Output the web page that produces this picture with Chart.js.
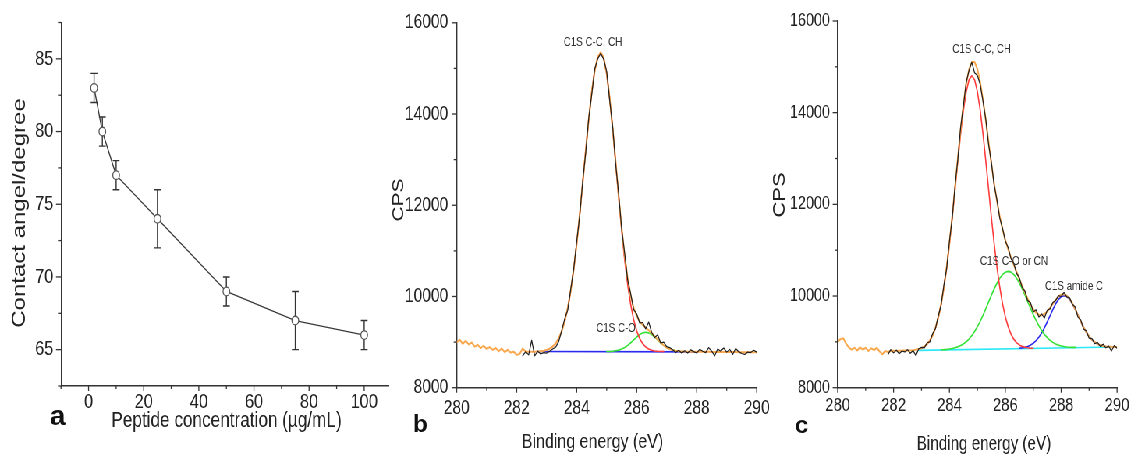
<!DOCTYPE html>
<html><head><meta charset="utf-8">
<script src="https://cdn.jsdelivr.net/npm/chart.js@4.4.0/dist/chart.umd.min.js"></script>
<style>
html,body{margin:0;padding:0;background:#fff;overflow:hidden;width:1131px;height:455px;}
#wrap{position:absolute;left:0;top:0;width:1450px;height:455px;transform:scaleX(0.78);transform-origin:0 0;}
canvas{position:absolute;top:0;}
</style></head><body>
<div id="wrap"><canvas id="ca"></canvas><canvas id="cb"></canvas><canvas id="cc"></canvas></div>
<script>
const S = 0.78;
const FONT = "'Liberation Sans', Arial, Helvetica, sans-serif";

// ---------- Panel a ----------
const concentration = [2, 5, 10, 25, 50, 75, 100];
const contactAngle = [83, 80, 77, 74, 69, 67, 66];
const angleError = [1, 1, 1, 2, 1, 2, 1];
const aXLabels = [0, 20, 40, 60, 80, 100];
const aYLabels = [65, 70, 75, 80, 85];

// ---------- Panels b, c (XPS C1s) ----------
const xpsXLabels = [280, 282, 284, 286, 288, 290];
const xpsYLabels = [8000, 10000, 12000, 14000, 16000];
const energy = [280.0,280.1,280.2,280.3,280.4,280.5,280.6,280.7,280.8,280.9,
281.0,281.1,281.2,281.3,281.4,281.5,281.6,281.7,281.8,281.9,
282.0,282.1,282.2,282.3,282.4,282.5,282.6,282.7,282.8,282.9,
283.0,283.1,283.2,283.3,283.4,283.5,283.6,283.7,283.8,283.9,
284.0,284.1,284.2,284.3,284.4,284.5,284.6,284.7,284.8,284.9,
285.0,285.1,285.2,285.3,285.4,285.5,285.6,285.7,285.8,285.9,
286.0,286.1,286.2,286.3,286.4,286.5,286.6,286.7,286.8,286.9,
287.0,287.1,287.2,287.3,287.4,287.5,287.6,287.7,287.8,287.9,
288.0,288.1,288.2,288.3,288.4,288.5,288.6,288.7,288.8,288.9,
289.0,289.1,289.2,289.3,289.4,289.5,289.6,289.7,289.8,289.9,
290.0];

// panel b (values start at energy index given)
const bEnvelope = [9000,9050,8960,9030,8950,8990,8900,8940,8870,8920,
8850,8890,8830,8870,8800,8860,8780,8830,8770,8790,
8720,8740,8860,8790,8790,8790,8790,8795,8800,8810,
8827,8856,8901,8971,9078,9233,9450,9742,10121,10591,
11153,11793,12485,13193,13873,14472,14943,15245,15350,15230,
14885,14350,13679,12941,12197,11499,10891,10395,10018,9748,
9568,9453,9377,9317,9260,9196,9127,9056,8989,8930,
8882,8848,8824,8809,8800,8795,8792,8790,8790,8789,
8788,8788,8787,8786,8786,8785,8784,8784,8783,8782,
8782,8781,8780,8780,8779,8778,8778,8777,8776,8776,
8775];
const bEnvelopeStart = 0;
const bRaw = [8700,8790,8720,9040,8700,8800,8740,8770,
8760,8800,8850,8890,9010,9250,9510,9700,10150,10600,
11200,11760,12520,13150,13900,14420,14980,15210,15330,15200,
14930,14300,13720,12900,12240,11480,10940,10360,10060,9710,
9620,9420,9430,9290,9440,9210,9100,9160,8980,9000,
8900,8880,8830,8770,8820,8760,8810,8760,8830,8790,
8760,8840,8800,8770,8880,8800,8700,8850,8800,8870,
8780,8840,8730,8860,8790,8750,8730,8780,8770,8820,
8780];
const bRawStart = 22;
const bCC = [8827,8856,8901,8971,9078,9233,9450,9742,10121,10591,
11153,11793,12485,13193,13873,14472,14943,15245,15350,15230,
14883,14345,13669,12922,12163,11441,10799,10257,9823,9490,
9247,9078,8965,8892,8848,8821,8806,8798,8794,8792];
const bCCStart = 30;
const bCO = [8792,8795,8800,8809,8824,8848,8882,8928,8985,9048,
9111,9165,9202,9215,9202,9165,9111,9048,8985,8928,
8882,8848,8824,8809,8800,8795];
const bCOStart = 50;
const bBaseE = [282.7, 288.0];
const bBase = [8795, 8785];

// panel c
const cEnvelope = [9000,9060,9080,8960,8880,8830,8870,8810,8880,8830,
8870,8800,8860,8820,8870,8790,8730,8800,8780,8800,
8805,8806,8807,8808,8809,8810,8812,8818,8829,8842,
8863,8897,8950,9030,9144,9306,9526,9816,10182,10628,
11150,11738,12366,13008,13626,14177,14627,14944,15105,15106,
14953,14668,14284,13835,13361,12895,12458,12070,11738,11457,
11223,11024,10848,10687,10530,10376,10226,10079,9940,9815,
9712,9637,9593,9583,9607,9663,9739,9827,9914,9985,
10028,10038,10007,9939,9839,9717,9583,9449,9322,9211,
9119,9047,8992,8954,8927,8910,8900,8894,8891,8890,
8890];
const cEnvelopeStart = 0;
const cRaw = [8720,8830,
8760,8820,8740,8800,8780,8830,8750,8810,8700,8850,
8880,8870,8980,9000,9180,9290,9560,9800,10230,10600,
11190,11700,12400,12980,13680,14150,14660,14920,15100,14870,
14810,14620,14250,13860,13310,12920,12420,12100,11700,11480,
11200,11060,10820,10720,10500,10400,10190,10110,9900,9860,
9650,9700,9540,9610,9520,9690,9720,9860,9900,10010,
9990,10080,9980,9960,9820,9760,9540,9480,9280,9240,
9080,9070,8960,8990,8900,8950,8870,8910,8800,8920,
8860];
const cRawStart = 18;
const cCC = [8842,8863,8897,8950,9029,9143,9304,9523,9811,10174,
10616,11131,11709,12324,12946,13537,14053,14457,14715,14804,
14717,14461,14059,13545,12956,12336,11724,11148,10635,10196,
9835,9549,9332,9173,9061,8984,8933,8901,8882,8871,
8864,8862];
const cCCStart = 29;
const cCO = [8827,8831,8837,8845,8856,8870,8891,8919,8955,9002,
9062,9135,9224,9328,9446,9577,9718,9865,10013,10153,
10279,10387,10468,10520,10538,10522,10472,10393,10287,10163,
10025,9880,9735,9597,9468,9352,9250,9163,9092,9034,
8989,8955,8929,8910,8898,8889,8883,8880,8879];
const cCOStart = 37;
const cAmide = [8860,8868,8880,8899,8928,8969,9026,9100,9194,9306,
9434,9569,9703,9825,9923,9986,10009,9988,9927,9831,
9712,9580,9447,9321,9211,9119,9047,8992,8954,8927,
8910,8900,8894];
const cAmideStart = 65;
const cBaseE = [282.9, 289.9];
const cBase = [8814, 8888];

// ---------- helpers ----------
function onGrid(vals, start) { return vals.map((v, i) => ({x: energy[start + i], y: v})); }
function pairs(xs, ys) { return xs.map((x, i) => ({x: x, y: ys[i]})); }

function axis(opts) {
  return {
    type: 'linear', min: opts.min, max: opts.max,
    grid: {display: false, drawTicks: false},
    border: {display: true, color: '#333', width: 1.4},
    ticks: {
      stepSize: opts.step, autoSkip: false, maxRotation: 0, minRotation: 0,
      includeBounds: false, padding: opts.padding, color: '#222',
      font: {family: FONT, size: opts.font},
      callback: (v) => opts.labels.includes(v) ? String(v) : ''
    },
    afterFit: (s) => { if (opts.horizontal) s.height = opts.size; else s.width = opts.size; }
  };
}

const tickMarks = {
  id: 'tickMarks',
  afterDraw(chart) {
    const ctx = chart.ctx;
    ctx.save();
    ctx.strokeStyle = '#333';
    ctx.lineWidth = 1.3;
    const sx = chart.scales.x, sy = chart.scales.y;
    sx.ticks.forEach(t => {
      const p = sx.getPixelForValue(t.value);
      const L = t.label !== '' ? 5 : 3;
      ctx.beginPath(); ctx.moveTo(p, sx.top); ctx.lineTo(p, sx.top + L); ctx.stroke();
    });
    sy.ticks.forEach(t => {
      const p = sy.getPixelForValue(t.value);
      const L = (t.label !== '' ? 5 : 3) / S;
      ctx.beginPath(); ctx.moveTo(sy.right, p); ctx.lineTo(sy.right - L, p); ctx.stroke();
    });
    ctx.restore();
  }
};

function textPlugin(items, leftU) {
  return {
    id: 'panelText',
    afterDraw(chart) {
      const ctx = chart.ctx;
      items.forEach(it => {
        ctx.save();
        ctx.fillStyle = it.color || '#222';
        ctx.font = (it.bold ? 'bold ' : '') + it.size + 'px ' + FONT;
        ctx.textAlign = it.align || 'center';
        ctx.textBaseline = 'alphabetic';
        ctx.translate(it.x / S - leftU, it.y);
        if (it.rot) ctx.rotate(it.rot * Math.PI / 180);
        if (it.unscale) ctx.scale(1 / S, 1);
        ctx.fillText(it.text, 0, 0);
        ctx.restore();
      });
    }
  };
}

const errorBars = {
  id: 'errorBars',
  beforeDatasetsDraw(chart) {
    const ctx = chart.ctx, x = chart.scales.x, y = chart.scales.y;
    const cap = 3.4 / S;
    ctx.save();
    ctx.strokeStyle = '#333';
    ctx.lineWidth = 1.4;
    concentration.forEach((c, i) => {
      const px = x.getPixelForValue(c);
      const yt = y.getPixelForValue(contactAngle[i] + angleError[i]);
      const yb = y.getPixelForValue(contactAngle[i] - angleError[i]);
      ctx.beginPath();
      ctx.moveTo(px, yt); ctx.lineTo(px, yb);
      ctx.moveTo(px - cap, yt); ctx.lineTo(px + cap, yt);
      ctx.moveTo(px - cap, yb); ctx.lineTo(px + cap, yb);
      ctx.stroke();
    });
    ctx.restore();
  }
};

function make(id, leftU, widthU, cfg) {
  const cv = document.getElementById(id);
  cv.width = widthU; cv.height = 455;
  cv.style.left = leftU + 'px';
  cv.style.width = widthU + 'px'; cv.style.height = '455px';
  return new Chart(cv, cfg);
}

const baseOpts = (pad, xAxis, yAxis) => ({
  responsive: false, animation: false, events: [],
  layout: {padding: pad},
  plugins: {legend: {display: false}, tooltip: {enabled: false}},
  scales: {x: xAxis, y: yAxis}
});

function line(data, color, width) {
  return {data: data, showLine: true, borderColor: color, borderWidth: width,
    pointRadius: 0, fill: false, tension: 0, borderJoinStyle: 'round', borderCapStyle: 'round'};
}

// ---------- Chart a ----------
const aLeft = 0, aWidth = 520;
make('ca', aLeft, aWidth, {
  type: 'scatter',
  data: {datasets: [{
    data: pairs(concentration, contactAngle), showLine: true,
    borderColor: '#3a3a3a', borderWidth: 1.4,
    pointRadius: 4.3, pointBackgroundColor: '#fff', pointBorderColor: '#555', pointBorderWidth: 1.3
  }]},
  options: baseOpts({left: 0, top: 19, right: aWidth - 389 / S, bottom: 0},
    axis({min: -10, max: 109, step: 10, labels: aXLabels, font: 21, padding: 4, horizontal: true, size: 455 - 386}),
    axis({min: 62.5, max: 87.5, step: 2.5, labels: aYLabels, font: 21, padding: 9.9, horizontal: false, size: 61 / S - aLeft})),
  plugins: [errorBars, tickMarks, textPlugin([
    {text: 'Contact angel/degree', x: 25, y: 213, size: 24, rot: -90},
    {text: 'Peptide concentration (µg/mL)', x: 226.5, y: 427, size: 22},
    {text: 'a', x: 50, y: 425, size: 28, bold: true, unscale: true, align: 'left', color: '#111'}
  ], aLeft)]
});

// ---------- Chart b ----------
const bLeft = 490, bWidth = 520;
make('cb', bLeft, bWidth, {
  type: 'scatter',
  data: {datasets: [
    line(onGrid(bRaw, bRawStart), '#1e1e1e', 1.2),
    line(onGrid(bEnvelope, bEnvelopeStart), '#F9A84E', 2.0),
    line(onGrid(bCC, bCCStart), '#FF3B3B', 1.6),
    line(onGrid(bCO, bCOStart), '#33E033', 1.6),
    line(pairs(bBaseE, bBase), '#2B2BF0', 1.6)
  ]},
  options: baseOpts({left: 0, top: 22.7, right: bWidth - (756.7 / S - bLeft), bottom: 0},
    axis({min: 280, max: 290, step: 1, labels: xpsXLabels, font: 20, padding: 9, horizontal: true, size: 455 - 387.7}),
    axis({min: 8000, max: 16000, step: 1000, labels: xpsYLabels, font: 20, padding: 10.8, horizontal: false, size: 456.7 / S - bLeft})),
  plugins: [tickMarks, textPlugin([
    {text: 'CPS', x: 403, y: 200, size: 21, rot: -90},
    {text: 'Binding energy (eV)', x: 592.5, y: 448, size: 20.5},
    {text: 'b', x: 413, y: 432, size: 24, bold: true, unscale: true, align: 'left', color: '#111'},
    {text: 'C1S C-C, CH', x: 593, y: 46, size: 12.5, color: '#333'},
    {text: 'C1S C-O', x: 616, y: 331.5, size: 12.5, color: '#333'}
  ], bLeft)]
});

// ---------- Chart c ----------
const cLeft = 975, cWidth = 480;
make('cc', cLeft, cWidth, {
  type: 'scatter',
  data: {datasets: [
    line(onGrid(cRaw, cRawStart), '#1e1e1e', 1.2),
    line(onGrid(cEnvelope, cEnvelopeStart), '#F9A84E', 2.0),
    line(onGrid(cCC, cCCStart), '#FF3B3B', 1.6),
    line(onGrid(cCO, cCOStart), '#33E033', 1.6),
    line(onGrid(cAmide, cAmideStart), '#2B2BF0', 1.6),
    line(pairs(cBaseE, cBase), '#2EE8F5', 1.6)
  ]},
  options: baseOpts({left: 0, top: 18.3, right: cWidth - (1117.7 / S - cLeft), bottom: 0},
    axis({min: 280, max: 290, step: 1, labels: xpsXLabels, font: 19, padding: 7, horizontal: true, size: 455 - 387.7}),
    axis({min: 8000, max: 16000, step: 1000, labels: xpsYLabels, font: 18.5, padding: 9.9, horizontal: false, size: 837.7 / S - cLeft})),
  plugins: [tickMarks, textPlugin([
    {text: 'CPS', x: 785, y: 195, size: 22, rot: -90},
    {text: 'Binding energy (eV)', x: 984, y: 450, size: 19.5},
    {text: 'c', x: 795, y: 433, size: 24, bold: true, unscale: true, align: 'left', color: '#111'},
    {text: 'C1S C-C, CH', x: 981.7, y: 53, size: 12.5, color: '#333'},
    {text: 'C1S C-O or CN', x: 1014, y: 265, size: 12.5, color: '#333'},
    {text: 'C1S amide C', x: 1074, y: 290, size: 12.5, color: '#333'}
  ], cLeft)]
});
</script>
</body></html>
